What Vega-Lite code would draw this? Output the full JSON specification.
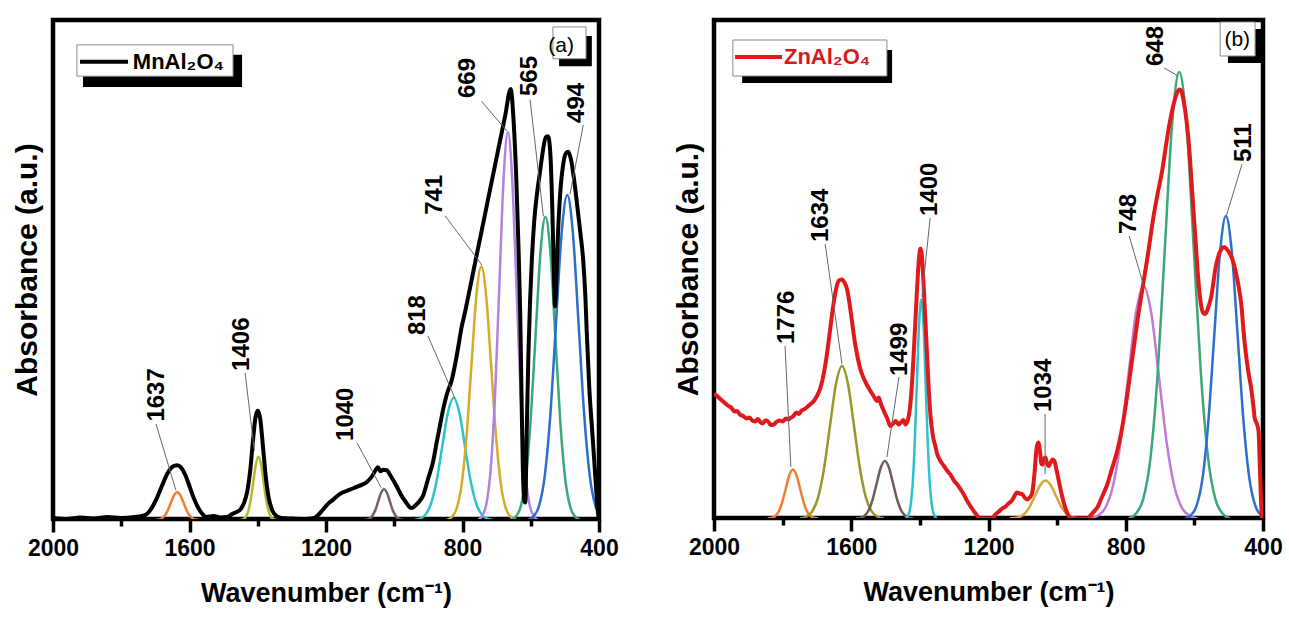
{
  "$schema": "https://vega.github.io/schema/vega-lite/v6.json",
  "padding": {"left": 9, "top": 17, "right": 5, "bottom": 5},
  "background": "white",
  "spacing": 49,
  "config": {
    "font": "Liberation Sans",
    "view": {"stroke": "black", "strokeWidth": 4.5},
    "axis": {"labelFont": "Liberation Sans", "titleFont": "Liberation Sans"}
  },
  "datasets": {
    "rows": [
      {"p":"a","k":"s","wn":2000,"v":0.004},{"p":"a","k":"s","wn":1960,"v":0.002},{"p":"a","k":"s","wn":1920,"v":0.005},{"p":"a","k":"s","wn":1880,"v":0.003},{"p":"a","k":"s","wn":1840,"v":0.006},{"p":"a","k":"s","wn":1800,"v":0.004},{"p":"a","k":"s","wn":1760,"v":0.006},{"p":"a","k":"s","wn":1740,"v":0.008},{"p":"a","k":"s","wn":1725,"v":0.012},{"p":"a","k":"s","wn":1710,"v":0.025},{"p":"a","k":"s","wn":1695,"v":0.045},{"p":"a","k":"s","wn":1680,"v":0.07},{"p":"a","k":"s","wn":1665,"v":0.093},{"p":"a","k":"s","wn":1650,"v":0.107},{"p":"a","k":"s","wn":1636,"v":0.11},{"p":"a","k":"s","wn":1625,"v":0.106},{"p":"a","k":"s","wn":1612,"v":0.09},{"p":"a","k":"s","wn":1600,"v":0.068},{"p":"a","k":"s","wn":1588,"v":0.045},{"p":"a","k":"s","wn":1575,"v":0.025},{"p":"a","k":"s","wn":1562,"v":0.012},{"p":"a","k":"s","wn":1550,"v":0.006},{"p":"a","k":"s","wn":1530,"v":0.008},{"p":"a","k":"s","wn":1510,"v":0.005},{"p":"a","k":"s","wn":1490,"v":0.006},{"p":"a","k":"s","wn":1475,"v":0.012},{"p":"a","k":"s","wn":1462,"v":0.016},{"p":"a","k":"s","wn":1450,"v":0.022},{"p":"a","k":"s","wn":1440,"v":0.035},{"p":"a","k":"s","wn":1430,"v":0.06},{"p":"a","k":"s","wn":1422,"v":0.1},{"p":"a","k":"s","wn":1414,"v":0.16},{"p":"a","k":"s","wn":1407,"v":0.205},{"p":"a","k":"s","wn":1400,"v":0.22},{"p":"a","k":"s","wn":1393,"v":0.205},{"p":"a","k":"s","wn":1385,"v":0.15},{"p":"a","k":"s","wn":1377,"v":0.09},{"p":"a","k":"s","wn":1368,"v":0.045},{"p":"a","k":"s","wn":1358,"v":0.02},{"p":"a","k":"s","wn":1345,"v":0.008},{"p":"a","k":"s","wn":1330,"v":0.004},{"p":"a","k":"s","wn":1300,"v":0.003},{"p":"a","k":"s","wn":1260,"v":0.002},{"p":"a","k":"s","wn":1235,"v":0.004},{"p":"a","k":"s","wn":1223,"v":0.01},{"p":"a","k":"s","wn":1210,"v":0.02},{"p":"a","k":"s","wn":1195,"v":0.032},{"p":"a","k":"s","wn":1179,"v":0.041},{"p":"a","k":"s","wn":1160,"v":0.052},{"p":"a","k":"s","wn":1130,"v":0.061},{"p":"a","k":"s","wn":1105,"v":0.068},{"p":"a","k":"s","wn":1081,"v":0.076},{"p":"a","k":"s","wn":1065,"v":0.088},{"p":"a","k":"s","wn":1055,"v":0.1},{"p":"a","k":"s","wn":1048,"v":0.106},{"p":"a","k":"s","wn":1040,"v":0.098},{"p":"a","k":"s","wn":1032,"v":0.101},{"p":"a","k":"s","wn":1022,"v":0.1},{"p":"a","k":"s","wn":1010,"v":0.088},{"p":"a","k":"s","wn":993,"v":0.068},{"p":"a","k":"s","wn":978,"v":0.048},{"p":"a","k":"s","wn":964,"v":0.034},{"p":"a","k":"s","wn":955,"v":0.026},{"p":"a","k":"s","wn":949,"v":0.024},{"p":"a","k":"s","wn":940,"v":0.028},{"p":"a","k":"s","wn":928,"v":0.036},{"p":"a","k":"s","wn":915,"v":0.05},{"p":"a","k":"s","wn":900,"v":0.085},{"p":"a","k":"s","wn":886,"v":0.118},{"p":"a","k":"s","wn":876,"v":0.155},{"p":"a","k":"s","wn":866,"v":0.19},{"p":"a","k":"s","wn":856,"v":0.225},{"p":"a","k":"s","wn":845,"v":0.255},{"p":"a","k":"s","wn":832,"v":0.28},{"p":"a","k":"s","wn":817,"v":0.33},{"p":"a","k":"s","wn":802,"v":0.39},{"p":"a","k":"s","wn":793,"v":0.417},{"p":"a","k":"s","wn":778,"v":0.467},{"p":"a","k":"s","wn":760,"v":0.528},{"p":"a","k":"s","wn":745,"v":0.578},{"p":"a","k":"s","wn":729,"v":0.632},{"p":"a","k":"s","wn":710,"v":0.696},{"p":"a","k":"s","wn":690,"v":0.763},{"p":"a","k":"s","wn":675,"v":0.813},{"p":"a","k":"s","wn":659,"v":0.867},{"p":"a","k":"s","wn":650,"v":0.8},{"p":"a","k":"s","wn":642,"v":0.68},{"p":"a","k":"s","wn":636,"v":0.55},{"p":"a","k":"s","wn":631,"v":0.42},{"p":"a","k":"s","wn":627,"v":0.25},{"p":"a","k":"s","wn":623,"v":0.1},{"p":"a","k":"s","wn":619,"v":0.04},{"p":"a","k":"s","wn":616,"v":0.035},{"p":"a","k":"s","wn":612,"v":0.17},{"p":"a","k":"s","wn":607,"v":0.33},{"p":"a","k":"s","wn":602,"v":0.44},{"p":"a","k":"s","wn":597,"v":0.52},{"p":"a","k":"s","wn":590,"v":0.6},{"p":"a","k":"s","wn":582,"v":0.655},{"p":"a","k":"s","wn":573,"v":0.7},{"p":"a","k":"s","wn":565,"v":0.74},{"p":"a","k":"s","wn":556,"v":0.77},{"p":"a","k":"s","wn":549,"v":0.772},{"p":"a","k":"s","wn":542,"v":0.73},{"p":"a","k":"s","wn":537,"v":0.63},{"p":"a","k":"s","wn":533,"v":0.52},{"p":"a","k":"s","wn":529,"v":0.43},{"p":"a","k":"s","wn":525,"v":0.48},{"p":"a","k":"s","wn":520,"v":0.58},{"p":"a","k":"s","wn":514,"v":0.654},{"p":"a","k":"s","wn":505,"v":0.715},{"p":"a","k":"s","wn":497,"v":0.738},{"p":"a","k":"s","wn":490,"v":0.741},{"p":"a","k":"s","wn":482,"v":0.725},{"p":"a","k":"s","wn":474,"v":0.69},{"p":"a","k":"s","wn":465,"v":0.64},{"p":"a","k":"s","wn":455,"v":0.58},{"p":"a","k":"s","wn":446,"v":0.52},{"p":"a","k":"s","wn":440,"v":0.45},{"p":"a","k":"s","wn":436,"v":0.38},{"p":"a","k":"s","wn":428,"v":0.26},{"p":"a","k":"s","wn":420,"v":0.18},{"p":"a","k":"s","wn":412,"v":0.1},{"p":"a","k":"s","wn":405,"v":0.03},{"p":"a","k":"s","wn":400,"v":0},

      {"p":"a","k":"c","s":"a1637","wn":1569.5,"v":0},{"p":"a","k":"c","s":"a1637","wn":1579,"v":0.0006},{"p":"a","k":"c","s":"a1637","wn":1588.5,"v":0.0025},{"p":"a","k":"c","s":"a1637","wn":1598,"v":0.0076},{"p":"a","k":"c","s":"a1637","wn":1607.5,"v":0.0182},{"p":"a","k":"c","s":"a1637","wn":1617,"v":0.034},{"p":"a","k":"c","s":"a1637","wn":1626.5,"v":0.0494},{"p":"a","k":"c","s":"a1637","wn":1636,"v":0.056},{"p":"a","k":"c","s":"a1637","wn":1645.5,"v":0.0494},{"p":"a","k":"c","s":"a1637","wn":1655,"v":0.034},{"p":"a","k":"c","s":"a1637","wn":1664.5,"v":0.0182},{"p":"a","k":"c","s":"a1637","wn":1674,"v":0.0076},{"p":"a","k":"c","s":"a1637","wn":1683.5,"v":0.0025},{"p":"a","k":"c","s":"a1637","wn":1693,"v":0.0006},{"p":"a","k":"c","s":"a1637","wn":1702.5,"v":0},
      {"p":"a","k":"c","s":"a1406","wn":1345.5,"v":0},{"p":"a","k":"c","s":"a1406","wn":1353,"v":0.0014},{"p":"a","k":"c","s":"a1406","wn":1360.5,"v":0.0056},{"p":"a","k":"c","s":"a1406","wn":1368,"v":0.0172},{"p":"a","k":"c","s":"a1406","wn":1375.5,"v":0.0412},{"p":"a","k":"c","s":"a1406","wn":1383,"v":0.077},{"p":"a","k":"c","s":"a1406","wn":1390.5,"v":0.1121},{"p":"a","k":"c","s":"a1406","wn":1398,"v":0.127},{"p":"a","k":"c","s":"a1406","wn":1405.5,"v":0.1121},{"p":"a","k":"c","s":"a1406","wn":1413,"v":0.077},{"p":"a","k":"c","s":"a1406","wn":1420.5,"v":0.0412},{"p":"a","k":"c","s":"a1406","wn":1428,"v":0.0172},{"p":"a","k":"c","s":"a1406","wn":1435.5,"v":0.0056},{"p":"a","k":"c","s":"a1406","wn":1443,"v":0.0014},{"p":"a","k":"c","s":"a1406","wn":1450.5,"v":0},
      {"p":"a","k":"c","s":"a1040","wn":970.5,"v":0},{"p":"a","k":"c","s":"a1040","wn":979,"v":0.0007},{"p":"a","k":"c","s":"a1040","wn":987.5,"v":0.0027},{"p":"a","k":"c","s":"a1040","wn":996,"v":0.0084},{"p":"a","k":"c","s":"a1040","wn":1004.5,"v":0.0201},{"p":"a","k":"c","s":"a1040","wn":1013,"v":0.0376},{"p":"a","k":"c","s":"a1040","wn":1021.5,"v":0.0547},{"p":"a","k":"c","s":"a1040","wn":1030,"v":0.062},{"p":"a","k":"c","s":"a1040","wn":1038.5,"v":0.0547},{"p":"a","k":"c","s":"a1040","wn":1047,"v":0.0376},{"p":"a","k":"c","s":"a1040","wn":1055.5,"v":0.0201},{"p":"a","k":"c","s":"a1040","wn":1064,"v":0.0084},{"p":"a","k":"c","s":"a1040","wn":1072.5,"v":0.0027},{"p":"a","k":"c","s":"a1040","wn":1081,"v":0.0007},{"p":"a","k":"c","s":"a1040","wn":1089.5,"v":0},
      {"p":"a","k":"c","s":"a818","wn":710.5,"v":0},{"p":"a","k":"c","s":"a818","wn":727,"v":0.0027},{"p":"a","k":"c","s":"a818","wn":743.5,"v":0.0108},{"p":"a","k":"c","s":"a818","wn":760,"v":0.0333},{"p":"a","k":"c","s":"a818","wn":776.5,"v":0.0799},{"p":"a","k":"c","s":"a818","wn":793,"v":0.1492},{"p":"a","k":"c","s":"a818","wn":809.5,"v":0.2171},{"p":"a","k":"c","s":"a818","wn":826,"v":0.246},{"p":"a","k":"c","s":"a818","wn":842.5,"v":0.2171},{"p":"a","k":"c","s":"a818","wn":859,"v":0.1492},{"p":"a","k":"c","s":"a818","wn":875.5,"v":0.0799},{"p":"a","k":"c","s":"a818","wn":892,"v":0.0333},{"p":"a","k":"c","s":"a818","wn":908.5,"v":0.0108},{"p":"a","k":"c","s":"a818","wn":925,"v":0.0027},{"p":"a","k":"c","s":"a818","wn":941.5,"v":0},
      {"p":"a","k":"c","s":"a741","wn":643.5,"v":0},{"p":"a","k":"c","s":"a741","wn":658,"v":0.0057},{"p":"a","k":"c","s":"a741","wn":672.5,"v":0.0224},{"p":"a","k":"c","s":"a741","wn":687,"v":0.069},{"p":"a","k":"c","s":"a741","wn":701.5,"v":0.1656},{"p":"a","k":"c","s":"a741","wn":716,"v":0.3093},{"p":"a","k":"c","s":"a741","wn":730.5,"v":0.4501},{"p":"a","k":"c","s":"a741","wn":745,"v":0.51},{"p":"a","k":"c","s":"a741","wn":759.5,"v":0.4501},{"p":"a","k":"c","s":"a741","wn":774,"v":0.3093},{"p":"a","k":"c","s":"a741","wn":788.5,"v":0.1656},{"p":"a","k":"c","s":"a741","wn":803,"v":0.069},{"p":"a","k":"c","s":"a741","wn":817.5,"v":0.0224},{"p":"a","k":"c","s":"a741","wn":832,"v":0.0057},{"p":"a","k":"c","s":"a741","wn":846.5,"v":0},
      {"p":"a","k":"c","s":"a669","wn":579.5,"v":0},{"p":"a","k":"c","s":"a669","wn":592,"v":0.0087},{"p":"a","k":"c","s":"a669","wn":604.5,"v":0.0342},{"p":"a","k":"c","s":"a669","wn":617,"v":0.1055},{"p":"a","k":"c","s":"a669","wn":629.5,"v":0.2533},{"p":"a","k":"c","s":"a669","wn":642,"v":0.4731},{"p":"a","k":"c","s":"a669","wn":654.5,"v":0.6884},{"p":"a","k":"c","s":"a669","wn":667,"v":0.78},{"p":"a","k":"c","s":"a669","wn":679.5,"v":0.6884},{"p":"a","k":"c","s":"a669","wn":692,"v":0.4731},{"p":"a","k":"c","s":"a669","wn":704.5,"v":0.2533},{"p":"a","k":"c","s":"a669","wn":717,"v":0.1055},{"p":"a","k":"c","s":"a669","wn":729.5,"v":0.0342},{"p":"a","k":"c","s":"a669","wn":742,"v":0.0087},{"p":"a","k":"c","s":"a669","wn":754.5,"v":0},
      {"p":"a","k":"c","s":"a565","wn":455.5,"v":0},{"p":"a","k":"c","s":"a565","wn":470,"v":0.0068},{"p":"a","k":"c","s":"a565","wn":484.5,"v":0.0268},{"p":"a","k":"c","s":"a565","wn":499,"v":0.0825},{"p":"a","k":"c","s":"a565","wn":513.5,"v":0.1981},{"p":"a","k":"c","s":"a565","wn":528,"v":0.37},{"p":"a","k":"c","s":"a565","wn":542.5,"v":0.5383},{"p":"a","k":"c","s":"a565","wn":557,"v":0.61},{"p":"a","k":"c","s":"a565","wn":571.5,"v":0.5383},{"p":"a","k":"c","s":"a565","wn":586,"v":0.37},{"p":"a","k":"c","s":"a565","wn":600.5,"v":0.1981},{"p":"a","k":"c","s":"a565","wn":615,"v":0.0825},{"p":"a","k":"c","s":"a565","wn":629.5,"v":0.0268},{"p":"a","k":"c","s":"a565","wn":644,"v":0.0068},{"p":"a","k":"c","s":"a565","wn":658.5,"v":0},
      {"p":"a","k":"c","s":"a494","wn":377.5,"v":0},{"p":"a","k":"c","s":"a494","wn":394,"v":0.0073},{"p":"a","k":"c","s":"a494","wn":410.5,"v":0.0287},{"p":"a","k":"c","s":"a494","wn":427,"v":0.0885},{"p":"a","k":"c","s":"a494","wn":443.5,"v":0.2124},{"p":"a","k":"c","s":"a494","wn":460,"v":0.3967},{"p":"a","k":"c","s":"a494","wn":476.5,"v":0.5772},{"p":"a","k":"c","s":"a494","wn":493,"v":0.654},{"p":"a","k":"c","s":"a494","wn":509.5,"v":0.5772},{"p":"a","k":"c","s":"a494","wn":526,"v":0.3967},{"p":"a","k":"c","s":"a494","wn":542.5,"v":0.2124},{"p":"a","k":"c","s":"a494","wn":559,"v":0.0885},{"p":"a","k":"c","s":"a494","wn":575.5,"v":0.0287},{"p":"a","k":"c","s":"a494","wn":592,"v":0.0073},{"p":"a","k":"c","s":"a494","wn":608.5,"v":0},

      {"p":"a","k":"t","t":"1637","wn":1695,"v":0.198},{"p":"a","k":"l","wn":1698,"v":0.193,"wn2":1640,"v2":0.06},
      {"p":"a","k":"t","t":"1406","wn":1446,"v":0.3},{"p":"a","k":"l","wn":1437,"v":0.296,"wn2":1410,"v2":0.14},
      {"p":"a","k":"t","t":"1040","wn":1141,"v":0.159},{"p":"a","k":"l","wn":1109,"v":0.155,"wn2":1039,"v2":0.066},
      {"p":"a","k":"t","t":"818","wn":930,"v":0.372},{"p":"a","k":"l","wn":901,"v":0.37,"wn2":822,"v2":0.245},
      {"p":"a","k":"t","t":"741","wn":881,"v":0.614},{"p":"a","k":"l","wn":851,"v":0.612,"wn2":743,"v2":0.513},
      {"p":"a","k":"t","t":"669","wn":784,"v":0.849},{"p":"a","k":"l","wn":744,"v":0.842,"wn2":669,"v2":0.782},
      {"p":"a","k":"t","t":"565","wn":602,"v":0.853},{"p":"a","k":"l","wn":602,"v":0.846,"wn2":563,"v2":0.611},
      {"p":"a","k":"t","t":"494","wn":465,"v":0.799},{"p":"a","k":"l","wn":446,"v":0.795,"wn2":485,"v2":0.655},
      {"p":"a","k":"sh","wn":1912,"v":0.936,"wn2":1446,"v2":0.871},
      {"p":"a","k":"bx","wn":1930,"v":0.956,"wn2":1472.5,"v2":0.893},
      {"p":"a","k":"ll","wn":1921,"v":0.922,"wn2":1780,"v2":0.922},
      {"p":"a","k":"lt","t":"MnAl₂O₄","wn":1766,"v":0.922},
      {"p":"a","k":"sh","wn":517,"v":0.974,"wn2":421,"v2":0.913},
      {"p":"a","k":"bx","wn":535,"v":0.992,"wn2":438,"v2":0.928},
      {"p":"a","k":"tg","t":"(a)","wn":511,"v":0.953},

      {"p":"b","k":"s","wn":2000,"v":0.25},{"p":"b","k":"s","wn":1991,"v":0.245},{"p":"b","k":"s","wn":1980,"v":0.238},{"p":"b","k":"s","wn":1970,"v":0.232},{"p":"b","k":"s","wn":1960,"v":0.226},{"p":"b","k":"s","wn":1950,"v":0.222},{"p":"b","k":"s","wn":1940,"v":0.214},{"p":"b","k":"s","wn":1933,"v":0.215},{"p":"b","k":"s","wn":1925,"v":0.208},{"p":"b","k":"s","wn":1915,"v":0.205},{"p":"b","k":"s","wn":1905,"v":0.2},{"p":"b","k":"s","wn":1897,"v":0.202},{"p":"b","k":"s","wn":1888,"v":0.196},{"p":"b","k":"s","wn":1880,"v":0.194},{"p":"b","k":"s","wn":1872,"v":0.199},{"p":"b","k":"s","wn":1865,"v":0.193},{"p":"b","k":"s","wn":1858,"v":0.19},{"p":"b","k":"s","wn":1850,"v":0.196},{"p":"b","k":"s","wn":1842,"v":0.194},{"p":"b","k":"s","wn":1835,"v":0.187},{"p":"b","k":"s","wn":1826,"v":0.188},{"p":"b","k":"s","wn":1818,"v":0.193},{"p":"b","k":"s","wn":1810,"v":0.196},{"p":"b","k":"s","wn":1800,"v":0.194},{"p":"b","k":"s","wn":1790,"v":0.2},{"p":"b","k":"s","wn":1783,"v":0.198},{"p":"b","k":"s","wn":1778,"v":0.201},{"p":"b","k":"s","wn":1770,"v":0.204},{"p":"b","k":"s","wn":1760,"v":0.212},{"p":"b","k":"s","wn":1752,"v":0.209},{"p":"b","k":"s","wn":1745,"v":0.216},{"p":"b","k":"s","wn":1738,"v":0.218},{"p":"b","k":"s","wn":1730,"v":0.222},{"p":"b","k":"s","wn":1720,"v":0.228},{"p":"b","k":"s","wn":1709,"v":0.235},{"p":"b","k":"s","wn":1700,"v":0.245},{"p":"b","k":"s","wn":1690,"v":0.261},{"p":"b","k":"s","wn":1680,"v":0.29},{"p":"b","k":"s","wn":1671,"v":0.328},{"p":"b","k":"s","wn":1663,"v":0.37},{"p":"b","k":"s","wn":1656,"v":0.408},{"p":"b","k":"s","wn":1648,"v":0.445},{"p":"b","k":"s","wn":1641,"v":0.468},{"p":"b","k":"s","wn":1634,"v":0.477},{"p":"b","k":"s","wn":1627,"v":0.478},{"p":"b","k":"s","wn":1620,"v":0.472},{"p":"b","k":"s","wn":1612,"v":0.458},{"p":"b","k":"s","wn":1605,"v":0.43},{"p":"b","k":"s","wn":1598,"v":0.395},{"p":"b","k":"s","wn":1590,"v":0.355},{"p":"b","k":"s","wn":1583,"v":0.328},{"p":"b","k":"s","wn":1574,"v":0.3},{"p":"b","k":"s","wn":1564,"v":0.281},{"p":"b","k":"s","wn":1555,"v":0.268},{"p":"b","k":"s","wn":1544,"v":0.255},{"p":"b","k":"s","wn":1535,"v":0.245},{"p":"b","k":"s","wn":1525,"v":0.235},{"p":"b","k":"s","wn":1520,"v":0.242},{"p":"b","k":"s","wn":1515,"v":0.232},{"p":"b","k":"s","wn":1505,"v":0.215},{"p":"b","k":"s","wn":1495,"v":0.2},{"p":"b","k":"s","wn":1486,"v":0.185},{"p":"b","k":"s","wn":1478,"v":0.19},{"p":"b","k":"s","wn":1470,"v":0.195},{"p":"b","k":"s","wn":1462,"v":0.188},{"p":"b","k":"s","wn":1455,"v":0.192},{"p":"b","k":"s","wn":1448,"v":0.197},{"p":"b","k":"s","wn":1442,"v":0.188},{"p":"b","k":"s","wn":1436,"v":0.195},{"p":"b","k":"s","wn":1430,"v":0.215},{"p":"b","k":"s","wn":1424,"v":0.26},{"p":"b","k":"s","wn":1418,"v":0.33},{"p":"b","k":"s","wn":1412,"v":0.41},{"p":"b","k":"s","wn":1407,"v":0.475},{"p":"b","k":"s","wn":1402,"v":0.525},{"p":"b","k":"s","wn":1398,"v":0.54},{"p":"b","k":"s","wn":1394,"v":0.525},{"p":"b","k":"s","wn":1390,"v":0.48},{"p":"b","k":"s","wn":1385,"v":0.41},{"p":"b","k":"s","wn":1380,"v":0.34},{"p":"b","k":"s","wn":1375,"v":0.27},{"p":"b","k":"s","wn":1369,"v":0.205},{"p":"b","k":"s","wn":1362,"v":0.165},{"p":"b","k":"s","wn":1355,"v":0.145},{"p":"b","k":"s","wn":1350,"v":0.13},{"p":"b","k":"s","wn":1340,"v":0.115},{"p":"b","k":"s","wn":1330,"v":0.105},{"p":"b","k":"s","wn":1320,"v":0.095},{"p":"b","k":"s","wn":1311,"v":0.088},{"p":"b","k":"s","wn":1300,"v":0.075},{"p":"b","k":"s","wn":1290,"v":0.067},{"p":"b","k":"s","wn":1280,"v":0.057},{"p":"b","k":"s","wn":1272,"v":0.048},{"p":"b","k":"s","wn":1262,"v":0.035},{"p":"b","k":"s","wn":1250,"v":0.022},{"p":"b","k":"s","wn":1240,"v":0.012},{"p":"b","k":"s","wn":1232,"v":0.005},{"p":"b","k":"s","wn":1224,"v":0},{"p":"b","k":"s","wn":1200,"v":0},{"p":"b","k":"s","wn":1190,"v":0},{"p":"b","k":"s","wn":1180,"v":0.008},{"p":"b","k":"s","wn":1170,"v":0.014},{"p":"b","k":"s","wn":1160,"v":0.02},{"p":"b","k":"s","wn":1150,"v":0.024},{"p":"b","k":"s","wn":1142,"v":0.03},{"p":"b","k":"s","wn":1136,"v":0.033},{"p":"b","k":"s","wn":1128,"v":0.04},{"p":"b","k":"s","wn":1122,"v":0.048},{"p":"b","k":"s","wn":1117,"v":0.052},{"p":"b","k":"s","wn":1110,"v":0.05},{"p":"b","k":"s","wn":1102,"v":0.049},{"p":"b","k":"s","wn":1095,"v":0.042},{"p":"b","k":"s","wn":1087,"v":0.038},{"p":"b","k":"s","wn":1080,"v":0.042},{"p":"b","k":"s","wn":1073,"v":0.05},{"p":"b","k":"s","wn":1066,"v":0.09},{"p":"b","k":"s","wn":1060,"v":0.14},{"p":"b","k":"s","wn":1055,"v":0.152},{"p":"b","k":"s","wn":1050,"v":0.135},{"p":"b","k":"s","wn":1046,"v":0.11},{"p":"b","k":"s","wn":1042,"v":0.108},{"p":"b","k":"s","wn":1038,"v":0.12},{"p":"b","k":"s","wn":1034,"v":0.122},{"p":"b","k":"s","wn":1030,"v":0.112},{"p":"b","k":"s","wn":1025,"v":0.105},{"p":"b","k":"s","wn":1020,"v":0.11},{"p":"b","k":"s","wn":1013,"v":0.118},{"p":"b","k":"s","wn":1008,"v":0.115},{"p":"b","k":"s","wn":1002,"v":0.098},{"p":"b","k":"s","wn":995,"v":0.075},{"p":"b","k":"s","wn":988,"v":0.052},{"p":"b","k":"s","wn":980,"v":0.03},{"p":"b","k":"s","wn":971,"v":0.012},{"p":"b","k":"s","wn":962,"v":0.002},{"p":"b","k":"s","wn":955,"v":0},{"p":"b","k":"s","wn":913,"v":0},{"p":"b","k":"s","wn":900,"v":0.008},{"p":"b","k":"s","wn":890,"v":0.016},{"p":"b","k":"s","wn":883,"v":0.022},{"p":"b","k":"s","wn":870,"v":0.042},{"p":"b","k":"s","wn":854,"v":0.068},{"p":"b","k":"s","wn":840,"v":0.1},{"p":"b","k":"s","wn":825,"v":0.135},{"p":"b","k":"s","wn":815,"v":0.165},{"p":"b","k":"s","wn":806,"v":0.2},{"p":"b","k":"s","wn":795,"v":0.25},{"p":"b","k":"s","wn":785,"v":0.3},{"p":"b","k":"s","wn":775,"v":0.35},{"p":"b","k":"s","wn":765,"v":0.4},{"p":"b","k":"s","wn":756,"v":0.44},{"p":"b","k":"s","wn":749,"v":0.469},{"p":"b","k":"s","wn":735,"v":0.53},{"p":"b","k":"s","wn":720,"v":0.6},{"p":"b","k":"s","wn":707,"v":0.65},{"p":"b","k":"s","wn":694,"v":0.695},{"p":"b","k":"s","wn":683,"v":0.745},{"p":"b","k":"s","wn":671,"v":0.795},{"p":"b","k":"s","wn":660,"v":0.83},{"p":"b","k":"s","wn":650,"v":0.852},{"p":"b","k":"s","wn":644,"v":0.858},{"p":"b","k":"s","wn":638,"v":0.855},{"p":"b","k":"s","wn":630,"v":0.83},{"p":"b","k":"s","wn":622,"v":0.79},{"p":"b","k":"s","wn":615,"v":0.74},{"p":"b","k":"s","wn":608,"v":0.67},{"p":"b","k":"s","wn":602,"v":0.61},{"p":"b","k":"s","wn":597,"v":0.56},{"p":"b","k":"s","wn":590,"v":0.49},{"p":"b","k":"s","wn":584,"v":0.445},{"p":"b","k":"s","wn":580,"v":0.425},{"p":"b","k":"s","wn":575,"v":0.412},{"p":"b","k":"s","wn":569,"v":0.409},{"p":"b","k":"s","wn":563,"v":0.415},{"p":"b","k":"s","wn":557,"v":0.428},{"p":"b","k":"s","wn":551,"v":0.443},{"p":"b","k":"s","wn":545,"v":0.47},{"p":"b","k":"s","wn":538,"v":0.503},{"p":"b","k":"s","wn":530,"v":0.525},{"p":"b","k":"s","wn":522,"v":0.538},{"p":"b","k":"s","wn":513,"v":0.543},{"p":"b","k":"s","wn":505,"v":0.538},{"p":"b","k":"s","wn":497,"v":0.53},{"p":"b","k":"s","wn":490,"v":0.52},{"p":"b","k":"s","wn":480,"v":0.495},{"p":"b","k":"s","wn":470,"v":0.46},{"p":"b","k":"s","wn":462,"v":0.42},{"p":"b","k":"s","wn":458,"v":0.385},{"p":"b","k":"s","wn":450,"v":0.33},{"p":"b","k":"s","wn":442,"v":0.29},{"p":"b","k":"s","wn":435,"v":0.263},{"p":"b","k":"s","wn":428,"v":0.225},{"p":"b","k":"s","wn":424,"v":0.2},{"p":"b","k":"s","wn":418,"v":0.19},{"p":"b","k":"s","wn":413,"v":0.175},{"p":"b","k":"s","wn":410,"v":0.12},{"p":"b","k":"s","wn":406,"v":0.04},{"p":"b","k":"s","wn":403,"v":0},

      {"p":"b","k":"c","s":"b1776","wn":1696.5,"v":0},{"p":"b","k":"c","s":"b1776","wn":1707,"v":0.0011},{"p":"b","k":"c","s":"b1776","wn":1717.5,"v":0.0043},{"p":"b","k":"c","s":"b1776","wn":1728,"v":0.0133},{"p":"b","k":"c","s":"b1776","wn":1738.5,"v":0.0318},{"p":"b","k":"c","s":"b1776","wn":1749,"v":0.0594},{"p":"b","k":"c","s":"b1776","wn":1759.5,"v":0.0865},{"p":"b","k":"c","s":"b1776","wn":1770,"v":0.098},{"p":"b","k":"c","s":"b1776","wn":1780.5,"v":0.0865},{"p":"b","k":"c","s":"b1776","wn":1791,"v":0.0594},{"p":"b","k":"c","s":"b1776","wn":1801.5,"v":0.0318},{"p":"b","k":"c","s":"b1776","wn":1812,"v":0.0133},{"p":"b","k":"c","s":"b1776","wn":1822.5,"v":0.0043},{"p":"b","k":"c","s":"b1776","wn":1833,"v":0.0011},{"p":"b","k":"c","s":"b1776","wn":1843.5,"v":0},
      {"p":"b","k":"c","s":"b1634","wn":1504.5,"v":0},{"p":"b","k":"c","s":"b1634","wn":1522,"v":0.0034},{"p":"b","k":"c","s":"b1634","wn":1539.5,"v":0.0134},{"p":"b","k":"c","s":"b1634","wn":1557,"v":0.0413},{"p":"b","k":"c","s":"b1634","wn":1574.5,"v":0.099},{"p":"b","k":"c","s":"b1634","wn":1592,"v":0.185},{"p":"b","k":"c","s":"b1634","wn":1609.5,"v":0.2692},{"p":"b","k":"c","s":"b1634","wn":1627,"v":0.305},{"p":"b","k":"c","s":"b1634","wn":1644.5,"v":0.2692},{"p":"b","k":"c","s":"b1634","wn":1662,"v":0.185},{"p":"b","k":"c","s":"b1634","wn":1679.5,"v":0.099},{"p":"b","k":"c","s":"b1634","wn":1697,"v":0.0413},{"p":"b","k":"c","s":"b1634","wn":1714.5,"v":0.0134},{"p":"b","k":"c","s":"b1634","wn":1732,"v":0.0034},{"p":"b","k":"c","s":"b1634","wn":1749.5,"v":0},
      {"p":"b","k":"c","s":"b1499","wn":1418,"v":0},{"p":"b","k":"c","s":"b1499","wn":1430,"v":0.0013},{"p":"b","k":"c","s":"b1499","wn":1442,"v":0.005},{"p":"b","k":"c","s":"b1499","wn":1454,"v":0.0156},{"p":"b","k":"c","s":"b1499","wn":1466,"v":0.0373},{"p":"b","k":"c","s":"b1499","wn":1478,"v":0.0697},{"p":"b","k":"c","s":"b1499","wn":1490,"v":0.1015},{"p":"b","k":"c","s":"b1499","wn":1502,"v":0.115},{"p":"b","k":"c","s":"b1499","wn":1514,"v":0.1015},{"p":"b","k":"c","s":"b1499","wn":1526,"v":0.0697},{"p":"b","k":"c","s":"b1499","wn":1538,"v":0.0373},{"p":"b","k":"c","s":"b1499","wn":1550,"v":0.0156},{"p":"b","k":"c","s":"b1499","wn":1562,"v":0.005},{"p":"b","k":"c","s":"b1499","wn":1574,"v":0.0013},{"p":"b","k":"c","s":"b1499","wn":1586,"v":0},
      {"p":"b","k":"c","s":"b1400","wn":1350.5,"v":0},{"p":"b","k":"c","s":"b1400","wn":1357,"v":0.0049},{"p":"b","k":"c","s":"b1400","wn":1363.5,"v":0.0192},{"p":"b","k":"c","s":"b1400","wn":1370,"v":0.0593},{"p":"b","k":"c","s":"b1400","wn":1376.5,"v":0.1422},{"p":"b","k":"c","s":"b1400","wn":1383,"v":0.2656},{"p":"b","k":"c","s":"b1400","wn":1389.5,"v":0.3865},{"p":"b","k":"c","s":"b1400","wn":1396,"v":0.438},{"p":"b","k":"c","s":"b1400","wn":1402.5,"v":0.3865},{"p":"b","k":"c","s":"b1400","wn":1409,"v":0.2656},{"p":"b","k":"c","s":"b1400","wn":1415.5,"v":0.1422},{"p":"b","k":"c","s":"b1400","wn":1422,"v":0.0593},{"p":"b","k":"c","s":"b1400","wn":1428.5,"v":0.0192},{"p":"b","k":"c","s":"b1400","wn":1435,"v":0.0049},{"p":"b","k":"c","s":"b1400","wn":1441.5,"v":0},
      {"p":"b","k":"c","s":"b1034","wn":929,"v":0},{"p":"b","k":"c","s":"b1034","wn":944,"v":0.0008},{"p":"b","k":"c","s":"b1034","wn":959,"v":0.0033},{"p":"b","k":"c","s":"b1034","wn":974,"v":0.0103},{"p":"b","k":"c","s":"b1034","wn":989,"v":0.0247},{"p":"b","k":"c","s":"b1034","wn":1004,"v":0.0461},{"p":"b","k":"c","s":"b1034","wn":1019,"v":0.0671},{"p":"b","k":"c","s":"b1034","wn":1034,"v":0.076},{"p":"b","k":"c","s":"b1034","wn":1049,"v":0.0671},{"p":"b","k":"c","s":"b1034","wn":1064,"v":0.0461},{"p":"b","k":"c","s":"b1034","wn":1079,"v":0.0247},{"p":"b","k":"c","s":"b1034","wn":1094,"v":0.0103},{"p":"b","k":"c","s":"b1034","wn":1109,"v":0.0033},{"p":"b","k":"c","s":"b1034","wn":1124,"v":0.0008},{"p":"b","k":"c","s":"b1034","wn":1139,"v":0},
      {"p":"b","k":"c","s":"b748","wn":590.5,"v":0},{"p":"b","k":"c","s":"b748","wn":613,"v":0.0052},{"p":"b","k":"c","s":"b748","wn":635.5,"v":0.0204},{"p":"b","k":"c","s":"b748","wn":658,"v":0.0629},{"p":"b","k":"c","s":"b748","wn":680.5,"v":0.151},{"p":"b","k":"c","s":"b748","wn":703,"v":0.282},{"p":"b","k":"c","s":"b748","wn":725.5,"v":0.4104},{"p":"b","k":"c","s":"b748","wn":748,"v":0.465},{"p":"b","k":"c","s":"b748","wn":770.5,"v":0.4104},{"p":"b","k":"c","s":"b748","wn":793,"v":0.282},{"p":"b","k":"c","s":"b748","wn":815.5,"v":0.151},{"p":"b","k":"c","s":"b748","wn":838,"v":0.0629},{"p":"b","k":"c","s":"b748","wn":860.5,"v":0.0204},{"p":"b","k":"c","s":"b748","wn":883,"v":0.0052},{"p":"b","k":"c","s":"b748","wn":905.5,"v":0},
      {"p":"b","k":"c","s":"b648","wn":497,"v":0},{"p":"b","k":"c","s":"b648","wn":518,"v":0.0099},{"p":"b","k":"c","s":"b648","wn":539,"v":0.0392},{"p":"b","k":"c","s":"b648","wn":560,"v":0.1208},{"p":"b","k":"c","s":"b648","wn":581,"v":0.29},{"p":"b","k":"c","s":"b648","wn":602,"v":0.5416},{"p":"b","k":"c","s":"b648","wn":623,"v":0.7881},{"p":"b","k":"c","s":"b648","wn":644,"v":0.893},{"p":"b","k":"c","s":"b648","wn":665,"v":0.7881},{"p":"b","k":"c","s":"b648","wn":686,"v":0.5416},{"p":"b","k":"c","s":"b648","wn":707,"v":0.29},{"p":"b","k":"c","s":"b648","wn":728,"v":0.1208},{"p":"b","k":"c","s":"b648","wn":749,"v":0.0392},{"p":"b","k":"c","s":"b648","wn":770,"v":0.0099},{"p":"b","k":"c","s":"b648","wn":791,"v":0},
      {"p":"b","k":"c","s":"b511","wn":389,"v":0},{"p":"b","k":"c","s":"b511","wn":406,"v":0.0067},{"p":"b","k":"c","s":"b511","wn":423,"v":0.0266},{"p":"b","k":"c","s":"b511","wn":440,"v":0.0819},{"p":"b","k":"c","s":"b511","wn":457,"v":0.1964},{"p":"b","k":"c","s":"b511","wn":474,"v":0.3669},{"p":"b","k":"c","s":"b511","wn":491,"v":0.5339},{"p":"b","k":"c","s":"b511","wn":508,"v":0.605},{"p":"b","k":"c","s":"b511","wn":525,"v":0.5339},{"p":"b","k":"c","s":"b511","wn":542,"v":0.3669},{"p":"b","k":"c","s":"b511","wn":559,"v":0.1964},{"p":"b","k":"c","s":"b511","wn":576,"v":0.0819},{"p":"b","k":"c","s":"b511","wn":593,"v":0.0266},{"p":"b","k":"c","s":"b511","wn":610,"v":0.0067},{"p":"b","k":"c","s":"b511","wn":627,"v":0},

      {"p":"b","k":"t","t":"1776","wn":1787,"v":0.349},{"p":"b","k":"l","wn":1793,"v":0.345,"wn2":1776,"v2":0.103},
      {"p":"b","k":"t","t":"1634","wn":1688,"v":0.553},{"p":"b","k":"l","wn":1676,"v":0.549,"wn2":1627,"v2":0.309},
      {"p":"b","k":"t","t":"1499","wn":1458,"v":0.285},{"p":"b","k":"l","wn":1461,"v":0.283,"wn2":1496,"v2":0.123},
      {"p":"b","k":"t","t":"1400","wn":1370,"v":0.605},{"p":"b","k":"l","wn":1370,"v":0.601,"wn2":1394,"v2":0.443},
      {"p":"b","k":"t","t":"1034","wn":1038,"v":0.213},{"p":"b","k":"l","wn":1035,"v":0.209,"wn2":1035,"v2":0.089},
      {"p":"b","k":"t","t":"748","wn":790,"v":0.569},{"p":"b","k":"l","wn":790,"v":0.565,"wn2":749,"v2":0.469},
      {"p":"b","k":"t","t":"648","wn":711,"v":0.905},{"p":"b","k":"l","wn":688,"v":0.901,"wn2":647,"v2":0.885},
      {"p":"b","k":"t","t":"511","wn":455,"v":0.713},{"p":"b","k":"l","wn":461,"v":0.709,"wn2":507,"v2":0.605},
      {"p":"b","k":"sh","wn":1918,"v":0.937,"wn2":1481,"v2":0.871},
      {"p":"b","k":"bx","wn":1945,"v":0.957,"wn2":1496,"v2":0.885},
      {"p":"b","k":"ll","wn":1939,"v":0.923,"wn2":1802,"v2":0.923},
      {"p":"b","k":"lt","t":"ZnAl₂O₄","wn":1796,"v":0.923},
      {"p":"b","k":"sh","wn":502,"v":0.979,"wn2":405,"v2":0.911},
      {"p":"b","k":"bx","wn":525,"v":0.993,"wn2":423,"v2":0.925},
      {"p":"b","k":"tg","t":"(b)","wn":475,"v":0.957}
    ]
  },
  "hconcat": [
    {
      "width": 546,
      "height": 499,
      "data": {"name": "rows"},
      "transform": [{"filter": "datum.p === 'a'"}],
      "encoding": {
        "x": {"field": "wn", "type": "quantitative",
          "scale": {"domain": [400, 2000], "reverse": true, "nice": false, "zero": false},
          "axis": {"title": "Wavenumber (cm⁻¹)", "values": [2000,1800,1600,1400,1200,1000,800,600,400],
            "labelExpr": "datum.value % 400 === 0 ? datum.label : ''", "format": "d",
            "labelFlush": false, "labelOverlap": false,
            "tickSize": {"condition": {"test": "datum.value % 400 === 0", "value": 13}, "value": 7},
            "tickWidth": 3.5, "tickColor": "black", "domain": false, "grid": false,
            "labelFontSize": 23, "labelFontWeight": "bold", "labelColor": "black", "labelPadding": 5,
            "titleFontSize": 27, "titleFontWeight": "bold", "titleColor": "black", "titlePadding": 20}},
        "y": {"field": "v", "type": "quantitative",
          "scale": {"domain": [0.002, 1.006], "nice": false, "zero": false},
          "axis": {"title": "Absorbance (a.u.)", "ticks": false, "labels": false, "domain": false, "grid": false,
            "titleFontSize": 30, "titleFontWeight": "bold", "titleColor": "black", "titlePadding": 11}}
      },
      "layer": [
        {"transform": [{"filter": "datum.k === 'c'"}],
         "mark": {"type": "line", "interpolate": "monotone", "strokeWidth": 2.5, "clip": true},
         "encoding": {"color": {"field": "s", "type": "nominal", "legend": null,
           "scale": {"domain": ["a1637","a1406","a1040","a818","a741","a669","a565","a494","b1776","b1634","b1499","b1400","b1034","b748","b648","b511"],
                     "range": ["#ef7f2f","#b4b82c","#7d5e5e","#2cc3cc","#d9a92c","#b381e0","#3aa877","#2b6ecb","#ef7f2f","#97972a","#6f5b5b","#2cc3cc","#d8a83a","#c07ad8","#3aa877","#2b6ecb"]}}}},
        {"transform": [{"filter": "datum.k === 's'"}],
         "mark": {"type": "line", "interpolate": "monotone", "strokeWidth": 4, "color": "black", "clip": true},
         "encoding": {}},
        {"transform": [{"filter": "datum.k === 'l'"}],
         "mark": {"type": "rule", "color": "#666666", "strokeWidth": 1},
         "encoding": {"x2": {"field": "wn2"}, "y2": {"field": "v2"}}},
        {"transform": [{"filter": "datum.k === 't'"}],
         "mark": {"type": "text", "angle": 270, "align": "left", "baseline": "middle", "fontSize": 24, "fontWeight": "bold", "color": "black"},
         "encoding": {"text": {"field": "t"}}},
        {"transform": [{"filter": "datum.k === 'sh'"}],
         "mark": {"type": "rect", "color": "black"},
         "encoding": {"x2": {"field": "wn2"}, "y2": {"field": "v2"}}},
        {"transform": [{"filter": "datum.k === 'bx'"}],
         "mark": {"type": "rect", "fill": "white", "stroke": "#8a8a8a", "strokeWidth": 1},
         "encoding": {"x2": {"field": "wn2"}, "y2": {"field": "v2"}}},
        {"transform": [{"filter": "datum.k === 'll'"}],
         "mark": {"type": "rule", "color": "black", "strokeWidth": 4},
         "encoding": {"x2": {"field": "wn2"}, "y2": {"field": "v2"}}},
        {"transform": [{"filter": "datum.k === 'lt'"}],
         "mark": {"type": "text", "align": "left", "baseline": "middle", "fontSize": 22, "fontWeight": "bold", "color": "black"},
         "encoding": {"text": {"field": "t"}}},
        {"transform": [{"filter": "datum.k === 'tg'"}],
         "mark": {"type": "text", "align": "center", "baseline": "middle", "fontSize": 21, "color": "black"},
         "encoding": {"text": {"field": "t"}}}
      ]
    },
    {
      "width": 549,
      "height": 498,
      "data": {"name": "rows"},
      "transform": [{"filter": "datum.p === 'b'"}],
      "encoding": {
        "x": {"field": "wn", "type": "quantitative",
          "scale": {"domain": [400, 2000], "reverse": true, "nice": false, "zero": false},
          "axis": {"title": "Wavenumber (cm⁻¹)", "values": [2000,1800,1600,1400,1200,1000,800,600,400],
            "labelExpr": "datum.value % 400 === 0 ? datum.label : ''", "format": "d",
            "labelFlush": false, "labelOverlap": false,
            "tickSize": {"condition": {"test": "datum.value % 400 === 0", "value": 13}, "value": 7},
            "tickWidth": 3.5, "tickColor": "black", "domain": false, "grid": false,
            "labelFontSize": 23, "labelFontWeight": "bold", "labelColor": "black", "labelPadding": 5,
            "titleFontSize": 27, "titleFontWeight": "bold", "titleColor": "black", "titlePadding": 20}},
        "y": {"field": "v", "type": "quantitative",
          "scale": {"domain": [0.001, 0.997], "nice": false, "zero": false},
          "axis": {"title": "Absorbance (a.u.)", "ticks": false, "labels": false, "domain": false, "grid": false,
            "titleFontSize": 30, "titleFontWeight": "bold", "titleColor": "black", "titlePadding": 11}}
      },
      "layer": [
        {"transform": [{"filter": "datum.k === 'c'"}],
         "mark": {"type": "line", "interpolate": "monotone", "strokeWidth": 2.5, "clip": true},
         "encoding": {"color": {"field": "s", "type": "nominal", "legend": null,
           "scale": {"domain": ["a1637","a1406","a1040","a818","a741","a669","a565","a494","b1776","b1634","b1499","b1400","b1034","b748","b648","b511"],
                     "range": ["#ef7f2f","#b4b82c","#7d5e5e","#2cc3cc","#d9a92c","#b381e0","#3aa877","#2b6ecb","#ef7f2f","#97972a","#6f5b5b","#2cc3cc","#d8a83a","#c07ad8","#3aa877","#2b6ecb"]}}}},
        {"transform": [{"filter": "datum.k === 's'"}],
         "mark": {"type": "line", "interpolate": "monotone", "strokeWidth": 4, "color": "#e0191c", "clip": true},
         "encoding": {}},
        {"transform": [{"filter": "datum.k === 'l'"}],
         "mark": {"type": "rule", "color": "#666666", "strokeWidth": 1},
         "encoding": {"x2": {"field": "wn2"}, "y2": {"field": "v2"}}},
        {"transform": [{"filter": "datum.k === 't'"}],
         "mark": {"type": "text", "angle": 270, "align": "left", "baseline": "middle", "fontSize": 24, "fontWeight": "bold", "color": "black"},
         "encoding": {"text": {"field": "t"}}},
        {"transform": [{"filter": "datum.k === 'sh'"}],
         "mark": {"type": "rect", "color": "black"},
         "encoding": {"x2": {"field": "wn2"}, "y2": {"field": "v2"}}},
        {"transform": [{"filter": "datum.k === 'bx'"}],
         "mark": {"type": "rect", "fill": "white", "stroke": "#8a8a8a", "strokeWidth": 1},
         "encoding": {"x2": {"field": "wn2"}, "y2": {"field": "v2"}}},
        {"transform": [{"filter": "datum.k === 'll'"}],
         "mark": {"type": "rule", "color": "#e0191c", "strokeWidth": 4},
         "encoding": {"x2": {"field": "wn2"}, "y2": {"field": "v2"}}},
        {"transform": [{"filter": "datum.k === 'lt'"}],
         "mark": {"type": "text", "align": "left", "baseline": "middle", "fontSize": 22, "fontWeight": "bold", "color": "#d7191c"},
         "encoding": {"text": {"field": "t"}}},
        {"transform": [{"filter": "datum.k === 'tg'"}],
         "mark": {"type": "text", "align": "center", "baseline": "middle", "fontSize": 21, "color": "black"},
         "encoding": {"text": {"field": "t"}}}
      ]
    }
  ]
}
